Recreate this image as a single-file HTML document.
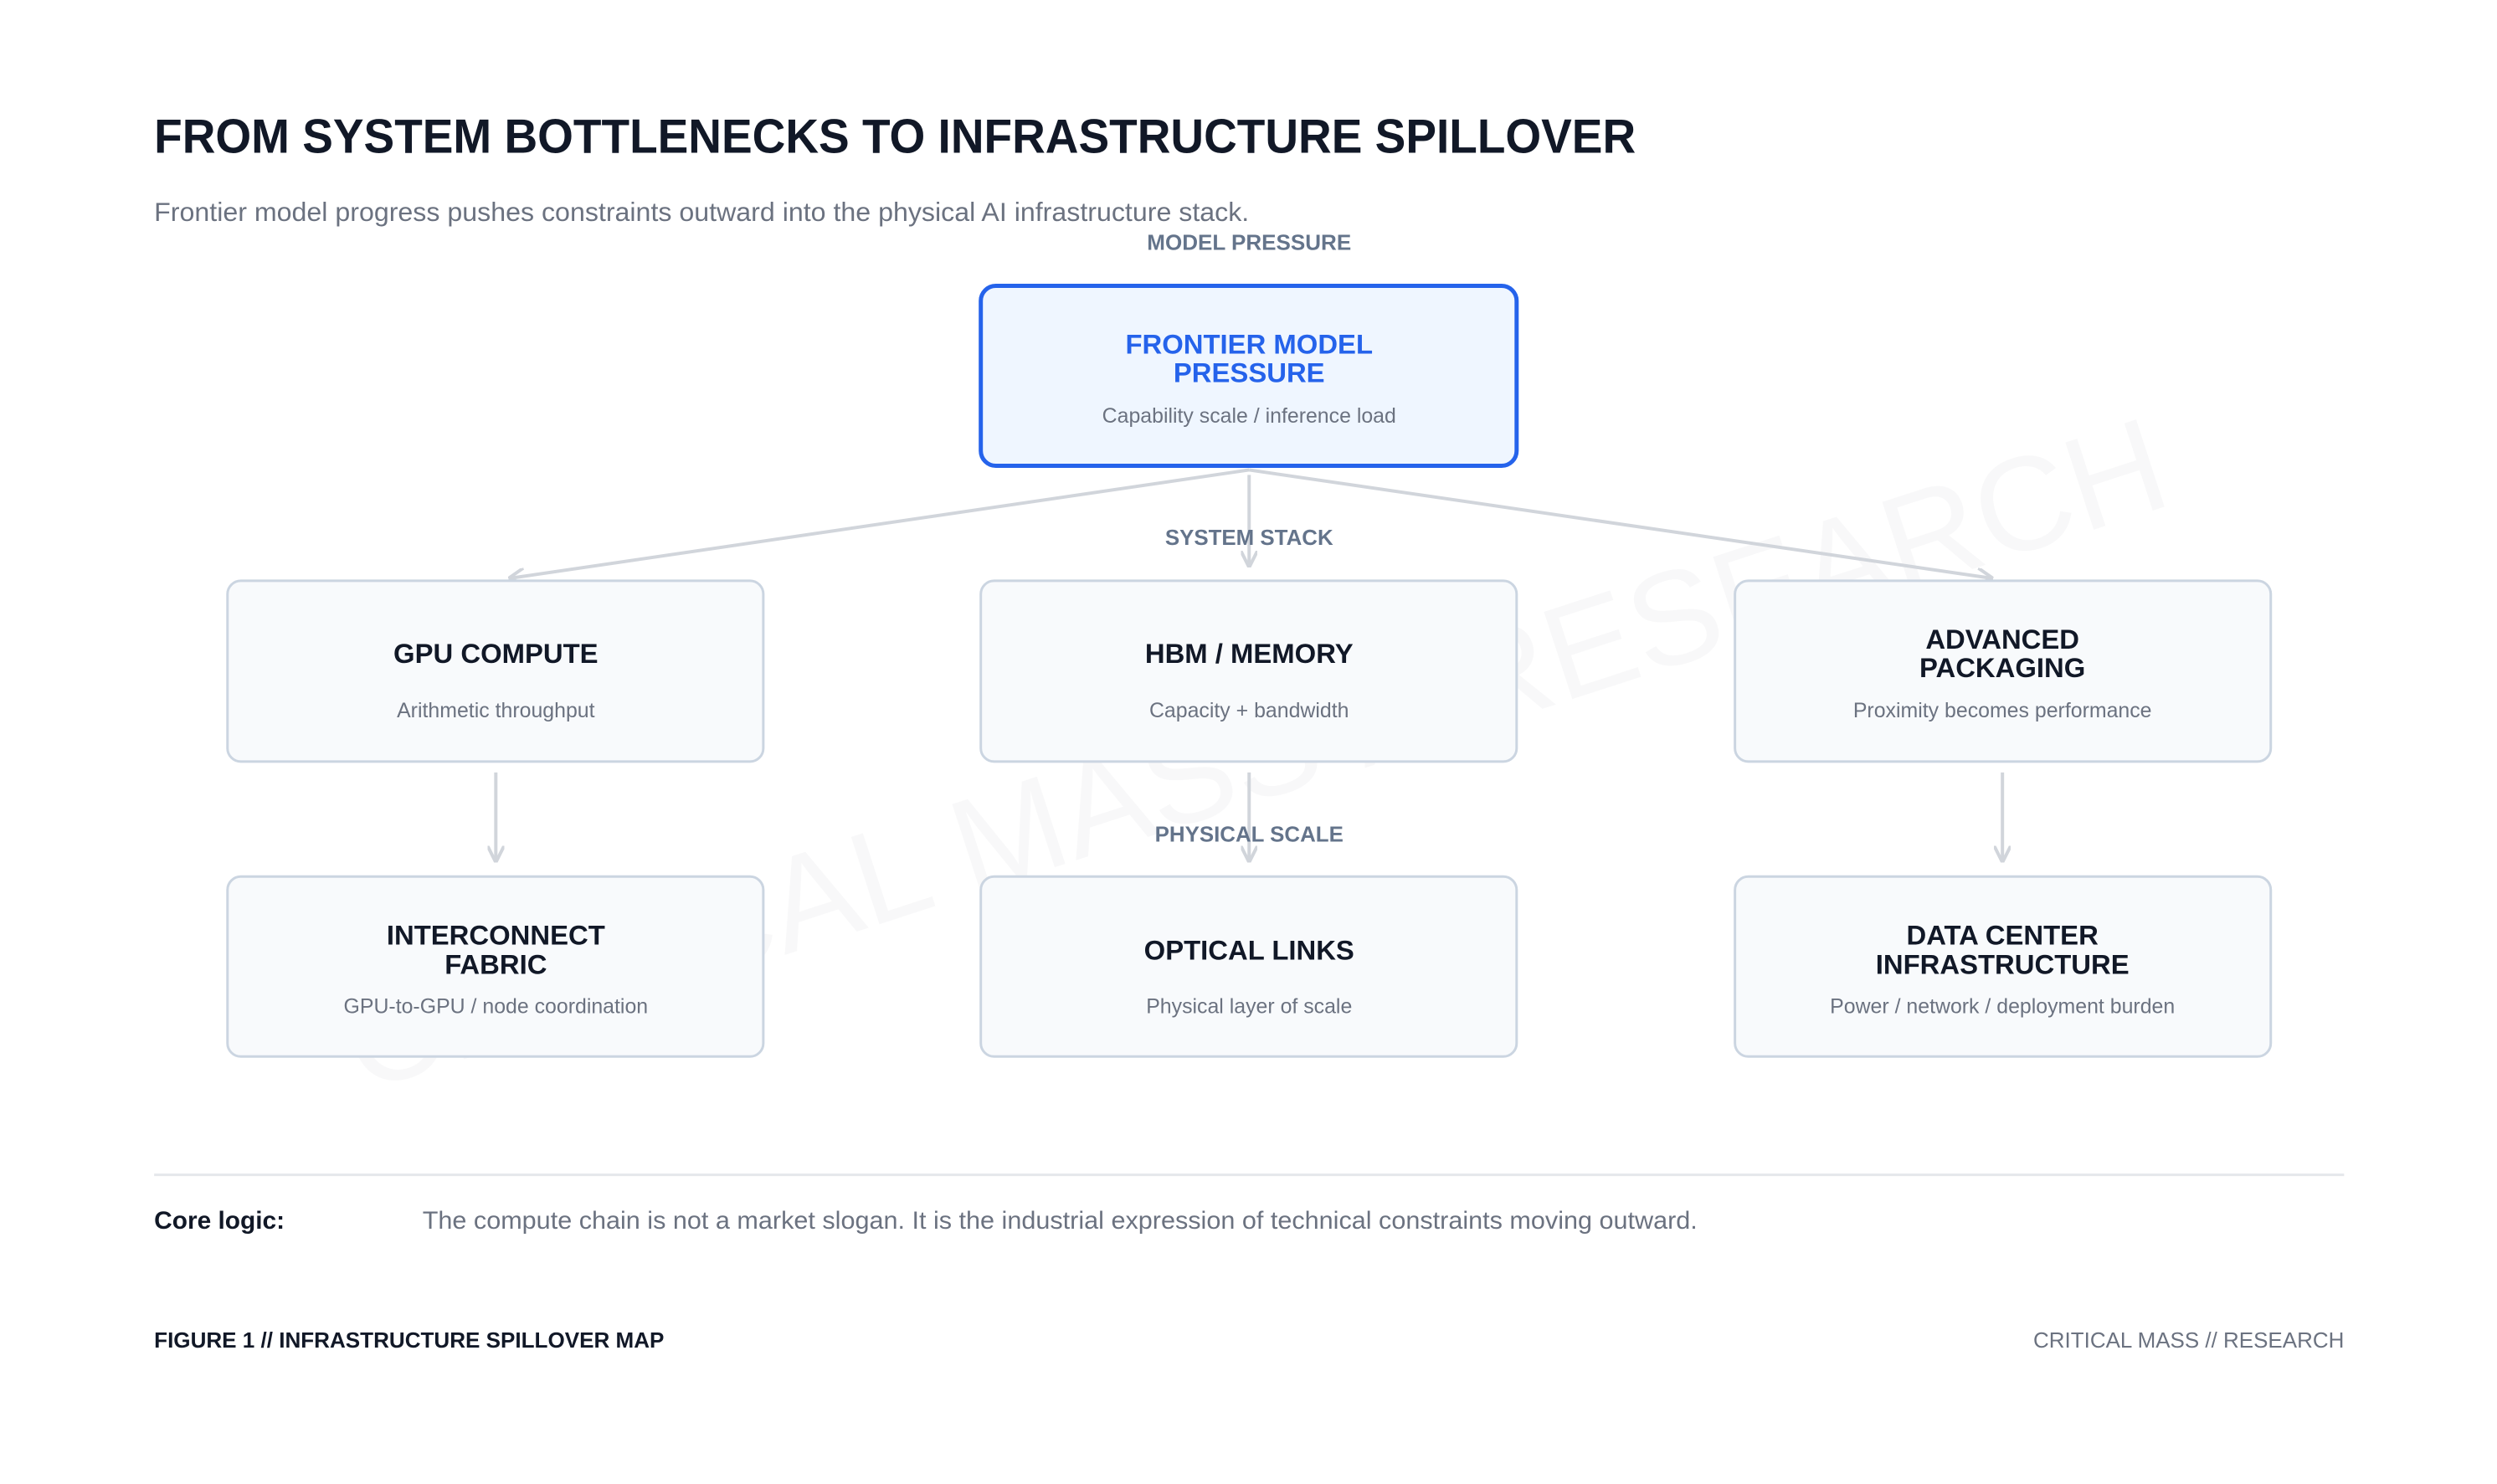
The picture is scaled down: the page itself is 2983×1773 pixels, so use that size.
<!DOCTYPE html>
<html><head><meta charset="utf-8"><style>
html,body{margin:0;padding:0;background:#fff;}
svg{display:block;font-family:"Liberation Sans",Arial,sans-serif;}
</style></head><body>
<svg width="2983" height="1773" viewBox="0 0 2983 1773" xmlns="http://www.w3.org/2000/svg">
<defs>
<marker id="ah" viewBox="0 0 10 10" refX="9" refY="5" markerWidth="5" markerHeight="5" orient="auto" markerUnits="strokeWidth">
<path d="M0,0 L10,5 L0,10" fill="none" stroke="#d1d5db" stroke-width="2"/>
</marker>
</defs>
<rect width="2983" height="1773" fill="#fff"/>
<g transform="scale(0.9955)">
<text x="1505" y="905" text-anchor="middle" dominant-baseline="central" font-size="160" fill="#0f172a" opacity="0.022" transform="rotate(-18 1505 905)">CRITICAL MASS // RESEARCH</text>

<text x="185" y="164" dominant-baseline="central" font-size="58" font-weight="bold" fill="#111827" textLength="1778" lengthAdjust="spacingAndGlyphs">FROM SYSTEM BOTTLENECKS TO INFRASTRUCTURE SPILLOVER</text>
<text x="185" y="254" dominant-baseline="central" font-size="32" fill="#6b7280" textLength="1314" lengthAdjust="spacingAndGlyphs">Frontier model progress pushes constraints outward into the physical AI infrastructure stack.</text>
<text x="1499" y="292" text-anchor="middle" dominant-baseline="central" font-size="26" font-weight="bold" fill="#64748b" textLength="245" lengthAdjust="spacingAndGlyphs">MODEL PRESSURE</text>

<g stroke="#d1d5db" stroke-width="4" fill="none">
<line x1="1499" y1="564" x2="612" y2="694" marker-end="url(#ah)"/>
<line x1="1499" y1="570" x2="1499" y2="679" marker-end="url(#ah)"/>
<line x1="1499" y1="564" x2="2390" y2="694" marker-end="url(#ah)"/>
<line x1="595" y1="927" x2="595" y2="1033" marker-end="url(#ah)"/>
<line x1="1499" y1="927" x2="1499" y2="1033" marker-end="url(#ah)"/>
<line x1="2403" y1="927" x2="2403" y2="1033" marker-end="url(#ah)"/>
</g>
<text x="1499" y="646" text-anchor="middle" dominant-baseline="central" font-size="26" font-weight="bold" fill="#64748b">SYSTEM STACK</text>
<text x="1499" y="1002" text-anchor="middle" dominant-baseline="central" font-size="26" font-weight="bold" fill="#64748b">PHYSICAL SCALE</text>

<rect x="1177" y="343" width="643" height="216" rx="18" fill="#eff6ff" stroke="#2563eb" stroke-width="5"/>
<g text-anchor="middle" dominant-baseline="central">
<text x="1499" y="413" font-size="33" font-weight="bold" fill="#2563eb">FRONTIER MODEL</text>
<text x="1499" y="447" font-size="33" font-weight="bold" fill="#2563eb">PRESSURE</text>
<text x="1499" y="499" font-size="25" fill="#6b7280">Capability scale / inference load</text>
</g>

<g fill="#f8fafc" stroke="#cbd5e1" stroke-width="3">
<rect x="273" y="697" width="643" height="217" rx="16"/>
<rect x="1177" y="697" width="643" height="217" rx="16"/>
<rect x="2082" y="697" width="643" height="217" rx="16"/>
<rect x="273" y="1052" width="643" height="216" rx="16"/>
<rect x="1177" y="1052" width="643" height="216" rx="16"/>
<rect x="2082" y="1052" width="643" height="216" rx="16"/>
</g>
<g text-anchor="middle" dominant-baseline="central">
<g font-size="33" font-weight="bold" fill="#111827">
<text x="595" y="784">GPU COMPUTE</text>
<text x="1499" y="784">HBM / MEMORY</text>
<text x="2403" y="767">ADVANCED</text>
<text x="2403" y="801">PACKAGING</text>
<text x="595" y="1122">INTERCONNECT</text>
<text x="595" y="1157">FABRIC</text>
<text x="1499" y="1140">OPTICAL LINKS</text>
<text x="2403" y="1122">DATA CENTER</text>
<text x="2403" y="1157">INFRASTRUCTURE</text>
</g>
<g font-size="25" fill="#6b7280">
<text x="595" y="853">Arithmetic throughput</text>
<text x="1499" y="853">Capacity + bandwidth</text>
<text x="2403" y="853">Proximity becomes performance</text>
<text x="595" y="1208">GPU-to-GPU / node coordination</text>
<text x="1499" y="1208">Physical layer of scale</text>
<text x="2403" y="1208">Power / network / deployment burden</text>
</g>
</g>

<line x1="185" y1="1410" x2="2813" y2="1410" stroke="#e5e7eb" stroke-width="3"/>
<text x="185" y="1465" dominant-baseline="central" font-size="30" font-weight="bold" fill="#111827">Core logic:</text>
<text x="507" y="1465" dominant-baseline="central" font-size="30" fill="#6b7280" textLength="1530" lengthAdjust="spacingAndGlyphs">The compute chain is not a market slogan. It is the industrial expression of technical constraints moving outward.</text>
<text x="185" y="1609" dominant-baseline="central" font-size="26" font-weight="bold" fill="#111827" textLength="612" lengthAdjust="spacingAndGlyphs">FIGURE 1 // INFRASTRUCTURE SPILLOVER MAP</text>
<text x="2813" y="1609" text-anchor="end" dominant-baseline="central" font-size="26" fill="#6b7280" textLength="373" lengthAdjust="spacingAndGlyphs">CRITICAL MASS // RESEARCH</text>
</g>
</svg>
</body></html>
